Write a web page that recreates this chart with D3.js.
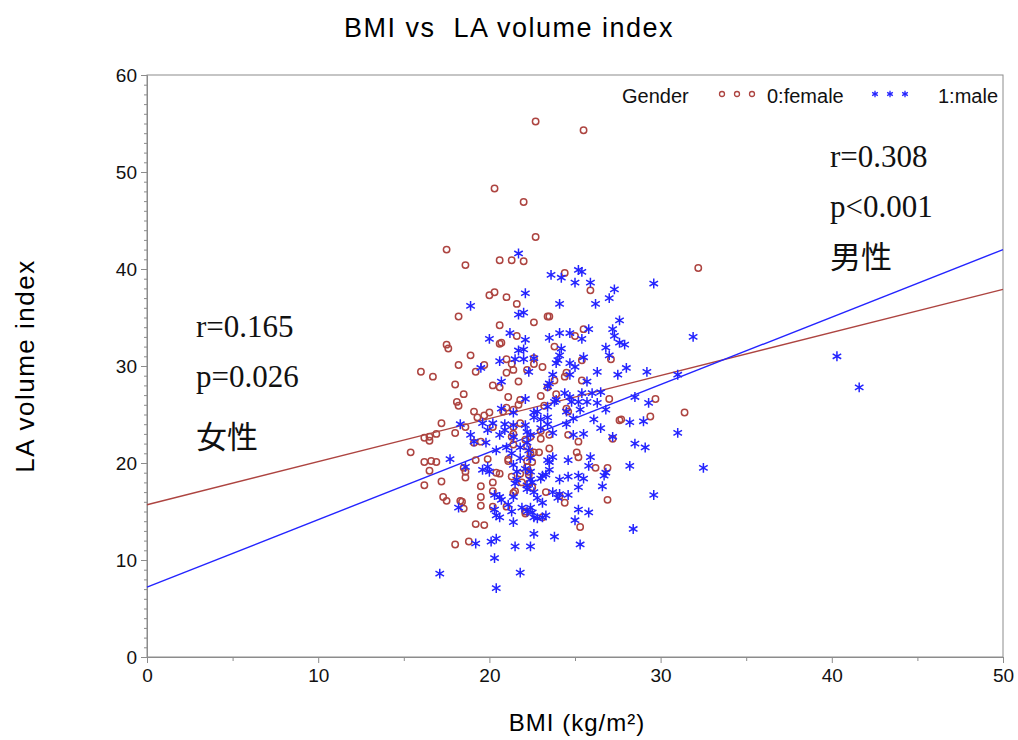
<!DOCTYPE html>
<html>
<head>
<meta charset="utf-8">
<script src="https://cdn.jsdelivr.net/npm/d3@7"></script>
<style>
  body { margin: 0; background: #fff; }
  #chart { width: 1018px; height: 740px; }
  .tick text { font-family: "Liberation Sans", Arial, sans-serif; }
</style>
</head>
<body>
<div id="chart"></div>
<script>
// BMI, LA volume index pairs
const female = [
  [22.7,55.2],[25.5,54.3],[20.3,48.3],[22.0,46.9],[22.7,43.3],[17.5,42.0],[18.6,40.4],[20.6,40.9],[21.3,40.9],[22.0,40.8],
  [32.2,40.1],[20.0,37.3],[20.3,37.6],[21.0,37.1],[21.6,36.4],[18.2,35.1],[22.6,34.5],[20.6,34.2],[21.6,33.1],[20.6,32.3],
  [20.7,32.4],[17.5,32.2],[17.6,31.8],[18.9,31.1],[18.2,30.1],[19.7,30.1],[19.2,29.4],[21.0,30.7],[21.3,30.2],[21.4,29.6],
  [21.0,29.3],[22.2,29.6],[22.6,30.2],[16.0,29.4],[16.7,28.9],[18.0,28.1],[20.2,28.0],[20.6,27.8],[21.7,28.4],[18.5,27.1],
  [21.1,26.8],[18.1,26.3],[18.2,25.9],[21.8,26.5],[21.7,26.0],[19.1,25.3],[19.3,24.7],[19.7,24.9],[20.0,25.2],[21.0,25.7],
  [21.4,25.5],[17.2,24.1],[18.6,23.7],[21.4,23.7],[21.8,24.1],[24.4,39.6],[25.9,37.8],[23.4,35.1],[23.5,35.1],[25.5,33.8],
  [25.0,33.1],[23.8,32.0],[22.6,30.8],[23.1,29.9],[25.4,30.6],[24.5,29.3],[24.4,28.9],[27.1,30.7],[25.4,28.5],[23.8,28.5],
  [23.4,27.8],[23.9,27.1],[23.0,26.9],[27.0,26.6],[29.7,26.6],[23.2,25.9],[24.5,25.6],[27.7,24.5],[29.4,24.8],[31.4,25.2],
  [16.2,22.6],[16.5,22.7],[16.9,23.0],[16.5,22.3],[18.0,23.1],[15.4,21.1],[16.2,20.1],[16.6,20.2],[16.9,20.1],[16.5,19.2],
  [16.2,17.7],[17.2,18.1],[17.3,16.5],[17.5,16.1],[18.3,16.1],[18.5,15.3],[19.2,20.3],[19.9,20.4],[19.2,13.7],[19.7,13.6],
  [18.0,11.6],[18.8,11.9],[18.6,19.1],[18.6,18.5],[19.5,17.6],[19.5,16.5],[19.5,15.6],[20.2,18.0],[20.2,17.1],[20.2,15.5],
  [20.4,19.0],[20.6,18.9],[21.1,20.2],[21.3,18.6],[21.5,17.1],[21.4,16.9],[21.0,15.5],[22.1,14.8],[21.3,22.7],[22.4,21.0],
  [22.3,17.9],[22.5,17.5],[19.1,22.1],[19.5,22.2],[20.2,23.7],[27.6,24.4],[24.6,22.9],[25.2,22.2],[27.2,22.5],[23.5,21.5],
  [22.9,21.1],[25.1,21.1],[25.2,20.6],[22.5,20.1],[26.2,19.5],[26.9,19.5],[23.3,17.0],[24.1,16.6],[24.4,15.9],[26.9,16.2],
  [23.1,14.4],[25.3,13.4],[20.8,25.3],[23.0,23.3],[23.5,22.9],[24.6,25.3],[21.4,23.0],[22.1,22.4],[22.4,22.7],[23.0,22.5],
  [21.4,21.9],[22.2,21.7],[22.6,21.1],[21.1,20.4],[22.2,20.2],[18.5,19.5],[21.8,18.9],[22.2,19.6],[22.3,19.1],[18.4,16.0],
  [22.3,18.8],[21.9,18.0],[22.1,15.0]
];

const male = [
  [21.7,41.6],[22.1,37.5],[18.9,36.2],[21.7,35.3],[22.0,35.5],[21.2,33.4],[20.0,32.8],[22.1,32.7],[21.7,31.6],[22.0,31.7],
  [20.6,30.5],[21.5,30.7],[22.0,30.7],[22.6,30.8],[19.5,29.8],[22.3,29.4],[20.7,28.4],[22.1,26.6],[20.7,25.6],[21.4,25.2],
  [22.6,25.2],[18.3,24.0],[19.6,24.1],[20.2,24.1],[20.9,24.0],[22.1,23.9],[23.6,39.4],[24.2,39.1],[25.2,39.9],[25.4,39.7],
  [25.0,38.6],[25.9,38.6],[27.3,37.9],[27.0,37.0],[29.6,38.5],[24.1,36.4],[26.2,36.4],[27.6,34.7],[27.2,33.8],[27.3,33.1],
  [27.6,32.4],[27.9,32.2],[25.8,33.8],[23.5,32.9],[24.1,33.4],[24.7,33.4],[25.4,32.8],[26.8,31.9],[27.0,31.1],[24.2,31.8],
  [24.1,31.1],[24.0,30.6],[25.5,30.9],[23.9,30.3],[24.7,30.3],[25.0,29.9],[26.3,29.4],[27.5,29.1],[28.0,29.8],[29.2,29.4],
  [31.9,33.0],[31.0,29.1],[23.7,29.1],[23.5,28.2],[23.4,27.9],[24.7,29.1],[24.4,27.2],[25.7,28.4],[25.4,27.2],[26.0,27.2],
  [26.5,27.3],[23.9,26.5],[24.7,26.8],[24.8,26.3],[25.2,26.3],[25.7,26.3],[26.3,26.2],[26.8,25.5],[28.5,26.8],[29.3,26.2],
  [22.8,25.3],[23.4,25.8],[23.8,26.3],[24.5,25.3],[25.3,25.5],[26.1,24.5],[28.2,24.2],[29.0,24.3],[22.6,24.7],[23.0,24.5],
  [23.4,24.7],[26.5,23.6],[17.7,20.4],[18.6,19.6],[18.9,22.9],[19.1,22.2],[19.8,22.1],[19.9,23.4],[20.9,23.4],[20.4,21.3],
  [21.0,21.6],[19.9,19.6],[20.0,19.1],[20.3,16.7],[20.6,16.5],[18.2,15.4],[20.3,15.2],[20.4,14.6],[20.6,14.4],[21.4,16.5],
  [21.5,17.9],[21.4,13.9],[21.3,21.0],[21.4,19.8],[21.6,19.1],[21.8,21.6],[22.2,22.1],[21.9,15.4],[22.2,15.0],[22.4,15.4],
  [22.6,14.4],[22.8,14.3],[22.5,18.0],[22.6,17.0],[19.2,11.7],[20.1,11.9],[20.4,12.2],[21.5,11.4],[22.4,11.4],[22.6,12.7],
  [20.3,10.2],[21.8,8.7],[17.1,8.6],[20.4,7.1],[31.0,23.1],[27.2,22.7],[28.5,22.0],[29.1,21.6],[25.5,23.0],[24.9,22.9],
  [22.4,22.9],[23.0,23.6],[23.7,20.6],[23.5,20.1],[24.6,20.3],[25.9,20.6],[25.8,19.7],[26.8,19.0],[26.7,18.7],[28.2,19.7],
  [32.5,19.5],[25.2,18.7],[25.5,18.4],[24.6,18.6],[24.1,18.3],[23.1,18.7],[23.0,18.4],[25.2,17.5],[26.6,17.6],[29.6,16.7],
  [23.7,17.0],[24.0,16.4],[24.6,16.7],[22.8,16.4],[23.1,15.9],[25.2,15.2],[25.8,14.9],[25.0,14.1],[28.4,13.2],[23.1,14.4],
  [23.8,12.4],[25.3,11.6],[40.3,31.0],[41.6,27.8],[20.7,16.2],[21.1,15.7],[22.5,14.9],[23.3,14.6],[22.2,17.3],[22.4,18.3],
  [24.1,16.8],[21.6,18.3],[21.3,15.0],[23.3,18.8],[22.2,17.7],[21.4,23.9],[23.4,24.0],[23.7,23.1],[24.5,24.0],[24.9,24.6],
  [20.6,22.9],[21.4,22.7],[22.2,23.2],[22.3,21.3],[22.4,20.5],[23.4,20.3],[21.8,20.5],[19.6,19.3],[22.1,19.4],[22.4,19.1],
  [23.5,19.3]
];

// fitted lines, value at BMI 0 and BMI 50
const fitX = [0, 50];
const femaleFit = [15.7, 37.9];
const maleFit = [7.2, 42.0];

const xTicks = [0, 10, 20, 30, 40, 50];
const yTicks = [0, 10, 20, 30, 40, 50, 60];

const femaleStats = ["r=0.165", "p=0.026", "女性"];
const maleStats = ["r=0.308", "p<0.001", "男性"];

const red = "#ad4440";
const blue = "#2424ff";
const axisGrey = "#8c8c8c";

const margin = {top: 75, right: 15, bottom: 83, left: 147};
const W = 1018, H = 740;
const width = W - margin.left - margin.right;
const height = H - margin.top - margin.bottom;

const svg = d3.select("#chart").append("svg")
    .attr("width", W)
    .attr("height", H);

const g = svg.append("g")
    .attr("transform", `translate(${margin.left}, ${margin.top})`);

const x = d3.scaleLinear().domain([0, 50]).range([0, width]);
const y = d3.scaleLinear().domain([0, 60]).range([height, 0]);

// minor ticks
g.append("g")
    .attr("transform", `translate(0, ${height})`)
    .call(d3.axisBottom(x).tickValues(d3.range(5, 50, 10)).tickSize(4).tickFormat(""))
    .call(a => a.select(".domain").remove())
    .call(a => a.selectAll("line").attr("stroke", axisGrey));

g.append("g")
    .call(d3.axisLeft(y).tickValues(d3.range(0, 61, 1).filter(v => v % 10)).tickSize(3).tickFormat(""))
    .call(a => a.select(".domain").remove())
    .call(a => a.selectAll("line").attr("stroke", axisGrey));

// major axes
g.append("g")
    .attr("transform", `translate(0, ${height})`)
    .call(d3.axisBottom(x).tickValues(xTicks).tickSize(6).tickPadding(6))
    .call(a => a.select(".domain").attr("stroke", axisGrey))
    .call(a => a.selectAll("line").attr("stroke", axisGrey))
    .call(a => a.selectAll("text").attr("font-size", 19).attr("fill", "#111"));

g.append("g")
    .call(d3.axisLeft(y).tickValues(yTicks).tickSize(6).tickPadding(4))
    .call(a => a.select(".domain").attr("stroke", axisGrey))
    .call(a => a.selectAll("line").attr("stroke", axisGrey))
    .call(a => a.selectAll("text").attr("font-size", 19).attr("fill", "#111"));

// frame
g.append("rect")
    .attr("width", width)
    .attr("height", height)
    .attr("fill", "none")
    .attr("stroke", axisGrey);

// regression lines
const line = d3.line().x(d => x(d[0])).y(d => y(d[1]));
g.append("path")
    .datum(fitX.map((v, i) => [v, femaleFit[i]]))
    .attr("d", line)
    .attr("fill", "none")
    .attr("stroke", red)
    .attr("stroke-width", 1.4);
g.append("path")
    .datum(fitX.map((v, i) => [v, maleFit[i]]))
    .attr("d", line)
    .attr("fill", "none")
    .attr("stroke", blue)
    .attr("stroke-width", 1.4);

// points
const star = d3.symbol(d3.symbolAsterisk).size(68);

g.selectAll(".female")
    .data(female)
    .enter()
    .append("circle")
    .attr("class", "female")
    .attr("cx", d => x(d[0]))
    .attr("cy", d => y(d[1]))
    .attr("r", 3.2)
    .attr("fill", "none")
    .attr("stroke", red)
    .attr("stroke-width", 1.5);

g.selectAll(".male")
    .data(male)
    .enter()
    .append("path")
    .attr("class", "male")
    .attr("transform", d => `translate(${x(d[0])}, ${y(d[1])})`)
    .attr("d", star)
    .attr("fill", "none")
    .attr("stroke", blue)
    .attr("stroke-width", 1.5);

// legend
const legend = svg.append("g")
    .attr("font-family", "Liberation Sans, Arial, sans-serif")
    .attr("font-size", 20)
    .attr("fill", "#111");
legend.append("text").attr("x", 622).attr("y", 103).text("Gender");
[722, 737, 752].forEach(cx => {
    legend.append("circle").attr("cx", cx).attr("cy", 94).attr("r", 2.5)
        .attr("fill", "none").attr("stroke", red).attr("stroke-width", 1.3);
});
legend.append("text").attr("x", 767).attr("y", 103).text("0:female");
[875, 890, 905].forEach(cx => {
    legend.append("path").attr("transform", `translate(${cx}, 94)`)
        .attr("d", d3.symbol(d3.symbolAsterisk).size(30))
        .attr("fill", "none").attr("stroke", blue).attr("stroke-width", 1.3);
});
legend.append("text").attr("x", 938).attr("y", 103).text("1:male");

// stats text
const statFont = "Liberation Serif, Times New Roman, serif";
const cjkFont = "Noto Sans CJK JP, sans-serif";
function statBlock(lines, x0, baselines) {
    lines.forEach((t, i) => {
        svg.append("text")
            .attr("x", x0)
            .attr("y", baselines[i])
            .attr("font-family", i === 2 ? cjkFont : statFont)
            .attr("font-size", i === 2 ? 31 : 31)
            .attr("fill", "#111")
            .text(t);
    });
}
statBlock(femaleStats, 196, [337, 387, 448]);
statBlock(maleStats, 830, [167, 217, 268]);

// titles
svg.append("text")
    .attr("x", 509)
    .attr("y", 37)
    .attr("text-anchor", "middle")
    .attr("font-family", "Liberation Sans, Arial, sans-serif")
    .attr("font-size", 27)
    .attr("letter-spacing", 1.5)
    .style("white-space", "pre")
    .text("BMI vs  LA volume index");

svg.append("text")
    .attr("x", 577)
    .attr("y", 731)
    .attr("text-anchor", "middle")
    .attr("font-family", "Liberation Sans, Arial, sans-serif")
    .attr("font-size", 24)
    .attr("letter-spacing", 1)
    .text("BMI (kg/m²)");

svg.append("text")
    .attr("transform", `translate(34, ${margin.top + height / 2}) rotate(-90)`)
    .attr("text-anchor", "middle")
    .attr("font-family", "Liberation Sans, Arial, sans-serif")
    .attr("font-size", 26)
    .attr("letter-spacing", 1.5)
    .text("LA volume index");
</script>
</body>
</html>
